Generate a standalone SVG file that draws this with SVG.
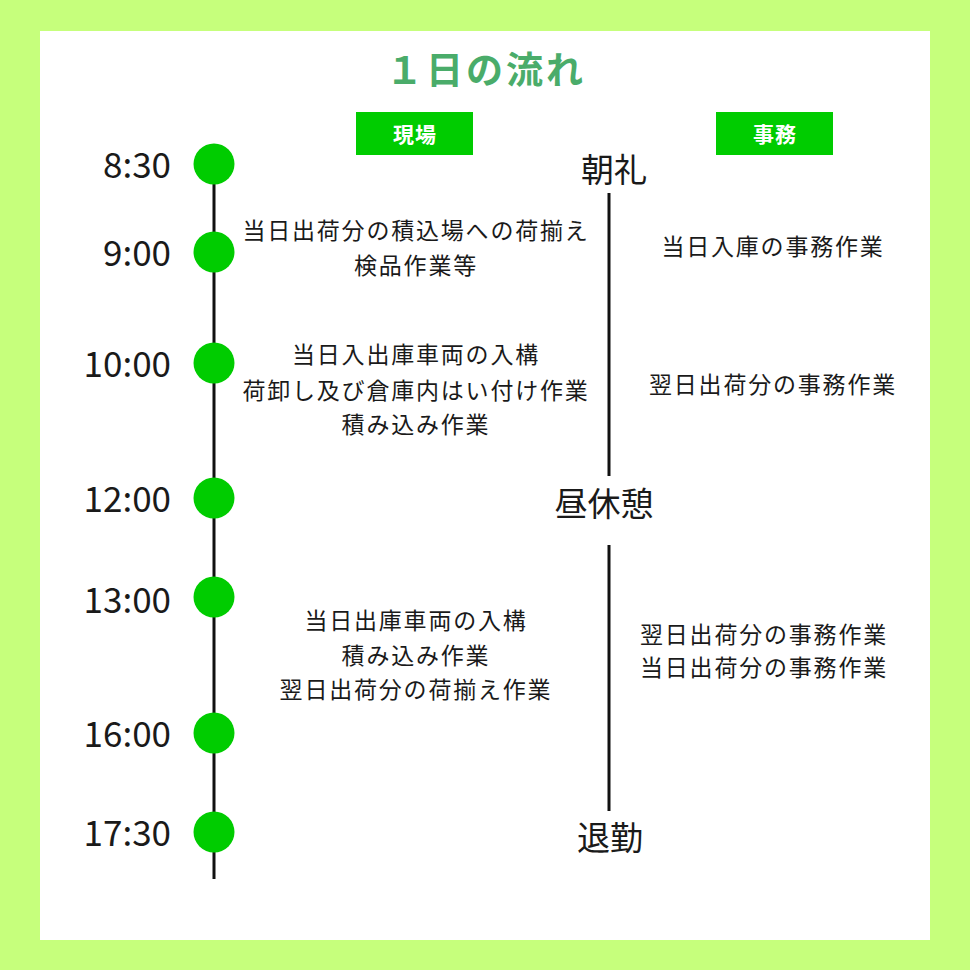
<svg xmlns="http://www.w3.org/2000/svg" width="970" height="970" viewBox="0 0 970 970">
<defs>
<style>
.t{font-family:"Noto Sans CJK JP","Noto Sans",sans-serif;fill:#1a1a1a}
.time{font-size:35px;text-anchor:end}
.body{font-size:23px;letter-spacing:1.8px;text-anchor:middle}
.big{font-size:33px;text-anchor:middle}
.badge{fill:#00cc00}
.badgeT{font-family:"Noto Sans CJK JP",sans-serif;font-weight:bold;font-size:21px;fill:#ffffff;text-anchor:middle;letter-spacing:1px}
.dot{fill:#00cc00}
.ln{stroke:#111;stroke-width:3;fill:none}
</style>
</defs>
<rect x="0" y="0" width="970" height="970" fill="#c6ff7c"/>
<rect x="40" y="31" width="890" height="909" fill="#ffffff"/>
<text x="486" y="84" font-family="Noto Sans CJK JP,sans-serif" font-weight="bold" font-size="37" letter-spacing="3" fill="#4aac6a" text-anchor="middle">１日の流れ</text>

<g id="badge-genba"><rect class="badge" x="356" y="112" width="117" height="43"/><text class="badgeT" x="415" y="142">現場</text></g>
<g id="badge-jimu"><rect class="badge" x="716" y="112" width="117" height="43"/><text class="badgeT" x="775" y="142">事務</text></g>

<g id="connectors">
<line class="ln" x1="214" y1="164" x2="214" y2="879"/>
<line class="ln" x1="609" y1="193" x2="609" y2="476"/>
<line class="ln" x1="609" y1="545" x2="609" y2="811"/>
</g>

<g id="t0830"><circle class="dot" cx="214" cy="164" r="20.5"/><text class="t time" x="171" y="178">8:30</text></g>
<g id="t0900"><circle class="dot" cx="214" cy="252" r="20.5"/><text class="t time" x="171" y="266">9:00</text></g>
<g id="t1000"><circle class="dot" cx="214" cy="363" r="20.5"/><text class="t time" x="171" y="377">10:00</text></g>
<g id="t1200"><circle class="dot" cx="214" cy="498" r="20.5"/><text class="t time" x="171" y="512">12:00</text></g>
<g id="t1300"><circle class="dot" cx="214" cy="597" r="20.5"/><text class="t time" x="171" y="613">13:00</text></g>
<g id="t1600"><circle class="dot" cx="214" cy="733" r="20.5"/><text class="t time" x="171" y="747">16:00</text></g>
<g id="t1730"><circle class="dot" cx="214" cy="832" r="20.5"/><text class="t time" x="171" y="846">17:30</text></g>

<g id="chorei"><text class="t big" x="614" y="182">朝礼</text></g>
<g id="hirukyukei"><text class="t big" x="604" y="516">昼休憩</text></g>
<g id="taikin"><text class="t big" x="610" y="850">退勤</text></g>

<g id="genba1">
<text class="t body" x="416" y="239">当日出荷分の積込場への荷揃え</text>
<text class="t body" x="416" y="274">検品作業等</text>
</g>
<g id="genba2">
<text class="t body" x="416" y="363">当日入出庫車両の入構</text>
<text class="t body" x="416" y="399">荷卸し及び倉庫内はい付け作業</text>
<text class="t body" x="416" y="433">積み込み作業</text>
</g>
<g id="genba3">
<text class="t body" x="416" y="629">当日出庫車両の入構</text>
<text class="t body" x="416" y="664">積み込み作業</text>
<text class="t body" x="416" y="698">翌日出荷分の荷揃え作業</text>
</g>
<g id="jimu1"><text class="t body" x="773" y="255">当日入庫の事務作業</text></g>
<g id="jimu2"><text class="t body" x="773" y="393">翌日出荷分の事務作業</text></g>
<g id="jimu3">
<text class="t body" x="764" y="643">翌日出荷分の事務作業</text>
<text class="t body" x="764" y="676">当日出荷分の事務作業</text>
</g>
</svg>
